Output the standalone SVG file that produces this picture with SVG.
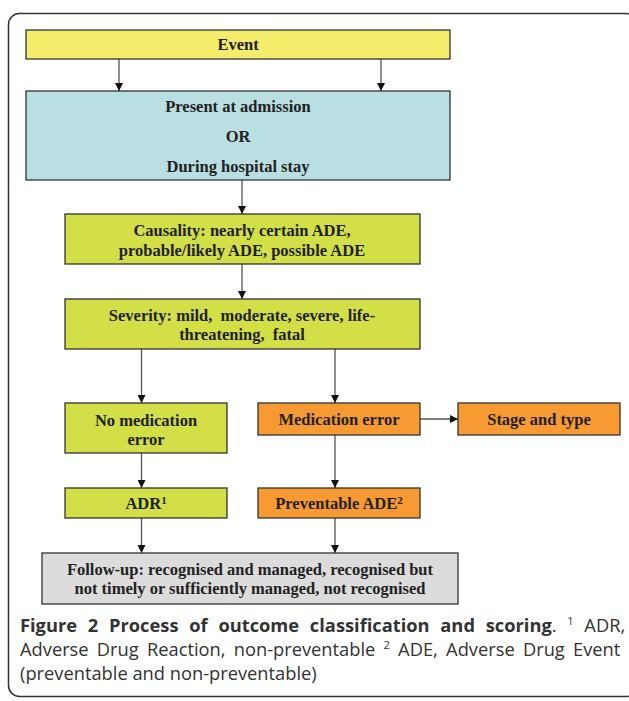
<svg xmlns="http://www.w3.org/2000/svg" width="629" height="701" viewBox="0 0 629 701">
<defs>
<marker id="ah" viewBox="0 0 10 10" refX="10" refY="5" markerWidth="8" markerHeight="8" markerUnits="userSpaceOnUse" orient="auto">
<path d="M0,0 L10,5 L0,10 Z" fill="#111"/>
</marker>
<style>
.box{stroke:#333;stroke-width:1.3}
.t{font-family:"Liberation Serif","Times New Roman",serif;font-weight:bold;font-size:16.5px;fill:#222;text-anchor:middle}
.c{stroke:#555;stroke-width:1.3;fill:none;marker-end:url(#ah)}
.cap{font-family:"Open Sans","Noto Sans",sans-serif;font-size:18.3px;fill:#333}
.sup{font-size:11px}
</style>
</defs>
<rect x="8.5" y="13.5" width="628" height="683" rx="11" fill="#fff" stroke="#333" stroke-width="1.5"/>
<g id="connectors">
<line class="c" x1="119" y1="59" x2="119" y2="91"/>
<line class="c" x1="381" y1="59" x2="381" y2="91"/>
<line class="c" x1="242" y1="180" x2="242" y2="214"/>
<line class="c" x1="242" y1="264" x2="242" y2="299"/>
<line class="c" x1="141.5" y1="349" x2="141.5" y2="403"/>
<line class="c" x1="335" y1="349" x2="335" y2="403"/>
<line class="c" x1="420" y1="419" x2="458" y2="419"/>
<line class="c" x1="141.5" y1="453" x2="141.5" y2="488"/>
<line class="c" x1="335" y1="435" x2="335" y2="488"/>
<line class="c" x1="141.5" y1="518" x2="141.5" y2="553"/>
<line class="c" x1="335" y1="518" x2="335" y2="553"/>
</g>
<g id="event">
<rect class="box" x="26" y="30" width="424" height="29" fill="#f4ed6c"/>
<text class="t" x="238" y="50">Event</text>
</g>
<g id="present">
<rect class="box" x="26" y="91" width="424" height="89" fill="#b9dfe2"/>
<text class="t" x="238" y="112">Present at admission</text>
<text class="t" x="238" y="142">OR</text>
<text class="t" x="238" y="172">During hospital stay</text>
</g>
<g id="causality">
<rect class="box" x="65" y="214" width="355" height="50" fill="#d2df47"/>
<text class="t" x="242" y="236">Causality: nearly certain ADE,</text>
<text class="t" x="242" y="256">probable/likely ADE, possible ADE</text>
</g>
<g id="severity">
<rect class="box" x="65" y="299" width="355" height="50" fill="#d2df47"/>
<text class="t" x="242" y="321" xml:space="preserve">Severity: mild,  moderate, severe, life-</text>
<text class="t" x="242" y="340" xml:space="preserve">threatening,  fatal</text>
</g>
<g id="nomed">
<rect class="box" x="65" y="403" width="162" height="50" fill="#d2df47"/>
<text class="t" x="146" y="426">No medication</text>
<text class="t" x="146" y="445">error</text>
</g>
<g id="mederr">
<rect class="box" x="258" y="403" width="162" height="32" fill="#f79a31"/>
<text class="t" x="339" y="425">Medication error</text>
</g>
<g id="stage">
<rect class="box" x="458" y="403" width="162" height="32" fill="#f79a31"/>
<text class="t" x="539" y="425">Stage and type</text>
</g>
<g id="adr">
<rect class="box" x="65" y="488" width="162" height="30" fill="#d2df47"/>
<text class="t" x="146" y="509">ADR<tspan class="sup" dy="-5">1</tspan></text>
</g>
<g id="prevade">
<rect class="box" x="258" y="488" width="162" height="30" fill="#f79a31"/>
<text class="t" x="339" y="509">Preventable ADE<tspan class="sup" dy="-5">2</tspan></text>
</g>
<g id="followup">
<rect class="box" x="42" y="553" width="416" height="51" fill="#dcdcdc"/>
<text class="t" x="250" y="575">Follow-up: recognised and managed, recognised but</text>
<text class="t" x="250" y="594">not timely or sufficiently managed, not recognised</text>
</g>
<g id="caption">
<text class="cap" x="20" y="632" word-spacing="6"><tspan font-weight="bold">Figure 2 Process of outcome classification and scoring</tspan>. <tspan class="sup" dy="-7">1</tspan><tspan dy="7"> ADR,</tspan></text>
<text class="cap" x="20" y="656" word-spacing="3.5">Adverse Drug Reaction, non-preventable <tspan class="sup" dy="-7">2</tspan><tspan dy="7"> ADE, Adverse Drug Event</tspan></text>
<text class="cap" x="20" y="680">(preventable and non-preventable)</text>
</g>
</svg>
